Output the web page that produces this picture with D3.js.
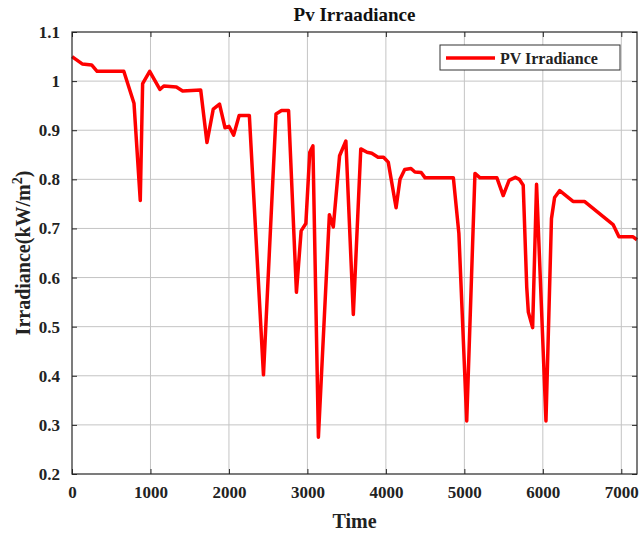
<!DOCTYPE html>
<html>
<head>
<meta charset="utf-8">
<script src="https://cdn.jsdelivr.net/npm/d3@7"></script>
<style>
  body { margin: 0; background: #fff; }
  text { font-family: "Liberation Serif", "Times New Roman", serif; font-weight: bold; }
</style>
</head>
<body>
<div id="chart"></div>
<script>
// Time samples and PV irradiance values
const times = [0, 130, 250, 320, 660, 790, 870, 900, 990, 1120, 1170, 1330, 1410, 1640, 1720, 1800, 1880,
  1950, 2000, 2060, 2130, 2260, 2440, 2600, 2670, 2760, 2860, 2920, 2980, 3030, 3070, 3140, 3280, 3330,
  3410, 3490, 3585, 3680, 3760, 3820, 3900, 3970, 4030, 4130, 4180, 4240, 4320, 4370, 4450, 4500, 4860,
  4930, 5030, 5135, 5200, 5415, 5495, 5570, 5650, 5700, 5750, 5795, 5815, 5870, 5920, 6040, 6110, 6150,
  6215, 6385, 6530, 6895, 6970, 7150, 7200];
const irradiance = [1.05, 1.035, 1.033, 1.02, 1.02, 0.955, 0.757, 0.995, 1.02, 0.983, 0.99, 0.988, 0.98,
  0.982, 0.875, 0.943, 0.953, 0.905, 0.908, 0.89, 0.93, 0.93, 0.402, 0.933, 0.94, 0.94, 0.57, 0.695, 0.71,
  0.855, 0.868, 0.275, 0.728, 0.703, 0.848, 0.878, 0.525, 0.862, 0.855, 0.853, 0.845, 0.845, 0.835, 0.742,
  0.80, 0.82, 0.822, 0.815, 0.814, 0.803, 0.803, 0.69, 0.308, 0.812, 0.803, 0.803, 0.767, 0.798, 0.804,
  0.80, 0.788, 0.58, 0.53, 0.498, 0.79, 0.308, 0.72, 0.763, 0.777, 0.755, 0.755, 0.708, 0.683, 0.683, 0.677];
const xTicks = [0, 1000, 2000, 3000, 4000, 5000, 6000, 7000];
const yTicks = [0.2, 0.3, 0.4, 0.5, 0.6, 0.7, 0.8, 0.9, 1, 1.1];

const W = 640, H = 537;
const margin = { top: 32, right: 3, bottom: 63, left: 72 };
const innerW = W - margin.left - margin.right;
const innerH = H - margin.top - margin.bottom;

const svg = d3.select('#chart').append('svg')
  .attr('width', W)
  .attr('height', H);

const g = svg.append('g')
  .attr('transform', `translate(${margin.left},${margin.top})`);

const x = d3.scaleLinear().domain([0, 7200]).range([0, innerW]);
const y = d3.scaleLinear().domain([0.2, 1.1]).range([innerH, 0]);

// grid
g.append('g').selectAll('line')
  .data(xTicks.slice(1))
  .join('line')
  .attr('x1', d => x(d)).attr('x2', d => x(d))
  .attr('y1', 0).attr('y2', innerH)
  .attr('stroke', '#c4c4c4').attr('stroke-width', 1);
g.append('g').selectAll('line')
  .data(yTicks.slice(1, -1))
  .join('line')
  .attr('x1', 0).attr('x2', innerW)
  .attr('y1', d => y(d)).attr('y2', d => y(d))
  .attr('stroke', '#c4c4c4').attr('stroke-width', 1);

// axes (ticks inward, box on)
const tickLen = 5;
const axisColor = '#262626';
g.append('g')
  .attr('transform', `translate(0,${innerH})`)
  .call(d3.axisBottom(x).tickValues(xTicks).tickSizeInner(-tickLen).tickSizeOuter(0).tickPadding(12).tickFormat(d3.format('d')))
  .call(a => a.select('.domain').remove())
  .call(a => a.selectAll('line').attr('stroke', axisColor))
  .call(a => a.selectAll('text').attr('fill', '#222').style('font-size', '17px'));
g.append('g')
  .call(d3.axisTop(x).tickValues(xTicks).tickSizeInner(-tickLen).tickSizeOuter(0).tickFormat(''))
  .call(a => a.select('.domain').remove())
  .call(a => a.selectAll('line').attr('stroke', axisColor));
g.append('g')
  .call(d3.axisLeft(y).tickValues(yTicks).tickSizeInner(-tickLen).tickSizeOuter(0).tickPadding(12).tickFormat(d3.format('~g')))
  .call(a => a.select('.domain').remove())
  .call(a => a.selectAll('line').attr('stroke', axisColor))
  .call(a => a.selectAll('text').attr('fill', '#222').style('font-size', '17px'));
g.append('g')
  .attr('transform', `translate(${innerW},0)`)
  .call(d3.axisRight(y).tickValues(yTicks).tickSizeInner(-tickLen).tickSizeOuter(0).tickFormat(''))
  .call(a => a.select('.domain').remove())
  .call(a => a.selectAll('line').attr('stroke', axisColor));

// data line
const line = d3.line()
  .x((d, i) => x(times[i]))
  .y(d => y(d));
g.append('path')
  .datum(irradiance)
  .attr('d', line)
  .attr('fill', 'none')
  .attr('stroke', '#ff0000')
  .attr('stroke-width', 3.5)
  .attr('stroke-linejoin', 'round');

// frame
g.append('rect')
  .attr('width', innerW).attr('height', innerH)
  .attr('fill', 'none')
  .attr('stroke', axisColor).attr('stroke-width', 1.2);

// title and labels
svg.append('text')
  .attr('x', margin.left + innerW / 2).attr('y', 21)
  .attr('text-anchor', 'middle')
  .style('font-size', '19px')
  .attr('fill', '#111')
  .text('Pv Irraadiance');

svg.append('text')
  .attr('x', margin.left + innerW / 2).attr('y', 528)
  .attr('text-anchor', 'middle')
  .style('font-size', '20px')
  .attr('fill', '#222')
  .text('Time');

const yl = svg.append('text')
  .attr('transform', `translate(30,${margin.top + innerH / 2}) rotate(-90)`)
  .attr('text-anchor', 'middle')
  .style('font-size', '20px')
  .attr('fill', '#222');
yl.append('tspan').text('Irradiance(kW/m');
yl.append('tspan').attr('dy', -8).style('font-size', '14px').text('2');
yl.append('tspan').attr('dy', 8).text(')');

// legend
const lg = svg.append('g').attr('transform', 'translate(440,45)');
lg.append('rect')
  .attr('width', 180).attr('height', 25)
  .attr('fill', '#fff')
  .attr('stroke', '#333').attr('stroke-width', 1);
lg.append('line')
  .attr('x1', 6).attr('x2', 55)
  .attr('y1', 13).attr('y2', 13)
  .attr('stroke', '#ff0000').attr('stroke-width', 3.5);
lg.append('text')
  .attr('x', 60).attr('y', 18.5)
  .style('font-size', '16px')
  .attr('fill', '#222')
  .text('PV Irradiance');
</script>
</body>
</html>
